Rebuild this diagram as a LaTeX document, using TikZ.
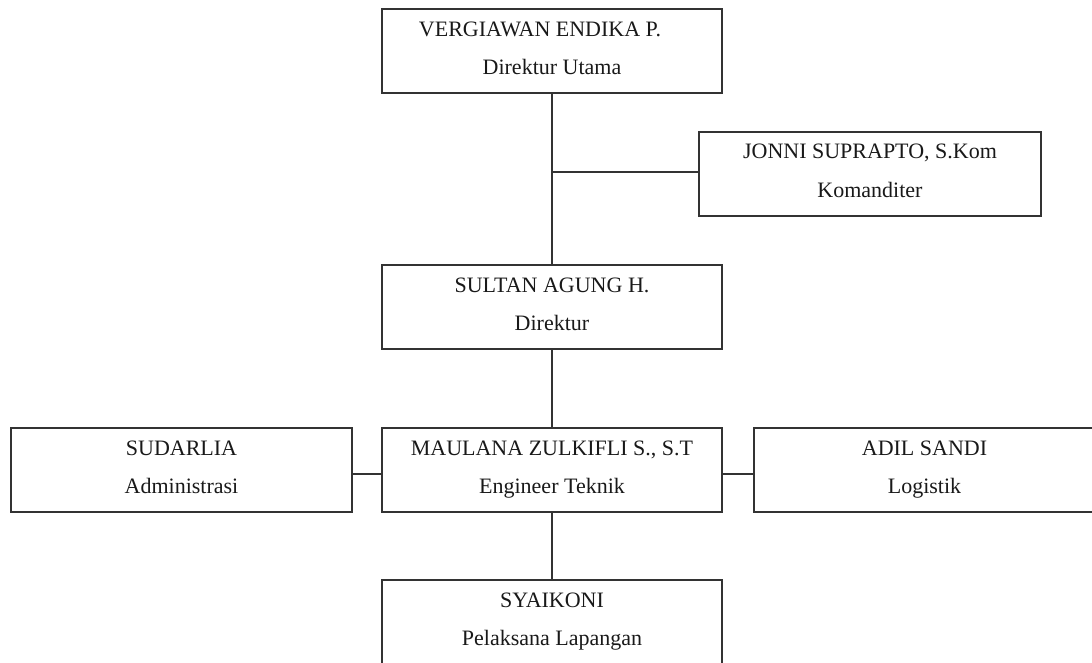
\documentclass[tikz,border=0pt]{standalone}
\usepackage{fontspec}
\setmainfont{Liberation Serif}
\usetikzlibrary{calc}
\begin{document}
\begin{tikzpicture}[x=0.75pt,y=-0.75pt,
  orgbox/.style={draw=black!80, line width=1.1pt, minimum width=#1*0.75pt, minimum height=63pt, inner sep=0pt, outer sep=0pt},
  orgbox/.default=340,
  lbl/.style={anchor=base, font=\fontsize{16.5}{20}\selectfont, text=black!90, inner sep=0pt},
  link/.style={draw=black!80, line width=1.1pt}]
\useasboundingbox (0,0) rectangle (1092,662);

% boxes
\node[orgbox=340] (dirut) at (552,51) {};
\node[orgbox=342] (jonni) at (870,174) {};
\node[orgbox=340] (dir) at (552,307) {};
\node[orgbox=341] (sud) at (181.5,470) {};
\node[orgbox=340] (maul) at (552,470) {};
\node[orgbox=341] (adil) at (924.5,470) {};
\node[orgbox=340] (syai) at (552,622) {};

% labels
\node[lbl] (dirutA) at (540,36) {VERGIAWAN ENDIKA P.};
\node[lbl] (dirutB) at (552,74) {Direktur Utama};
\node[lbl] (jonniA) at (870,158) {JONNI SUPRAPTO, S.Kom};
\node[lbl] (jonniB) at (870,197) {Komanditer};
\node[lbl] (dirA) at (552,292) {SULTAN AGUNG H.};
\node[lbl] (dirB) at (552,330) {Direktur};
\node[lbl] (sudA) at (181.5,455) {SUDARLIA};
\node[lbl] (sudB) at (181.5,493) {Administrasi};
\node[lbl] (maulA) at (552,455) {MAULANA ZULKIFLI S., S.T};
\node[lbl] (maulB) at (552,493) {Engineer Teknik};
\node[lbl] (adilA) at (924.5,455) {ADIL SANDI};
\node[lbl] (adilB) at (924.5,493) {Logistik};
\node[lbl] (syaiA) at (552,607) {SYAIKONI};
\node[lbl] (syaiB) at (552,645) {Pelaksana Lapangan};

% connectors
\draw[link] (dirut.south) -- (dir.north);
\draw[link] ([yshift=1.5pt]jonni.west) -- ([yshift=1.5pt]jonni.west -| dirut.south);
\draw[link] (dir.south) -- (maul.north);
\draw[link] ([yshift=-3pt]sud.east) -- ([yshift=-3pt]maul.west);
\draw[link] ([yshift=-3pt]maul.east) -- ([yshift=-3pt]adil.west);
\draw[link] (maul.south) -- (syai.north);
\end{tikzpicture}
\end{document}
